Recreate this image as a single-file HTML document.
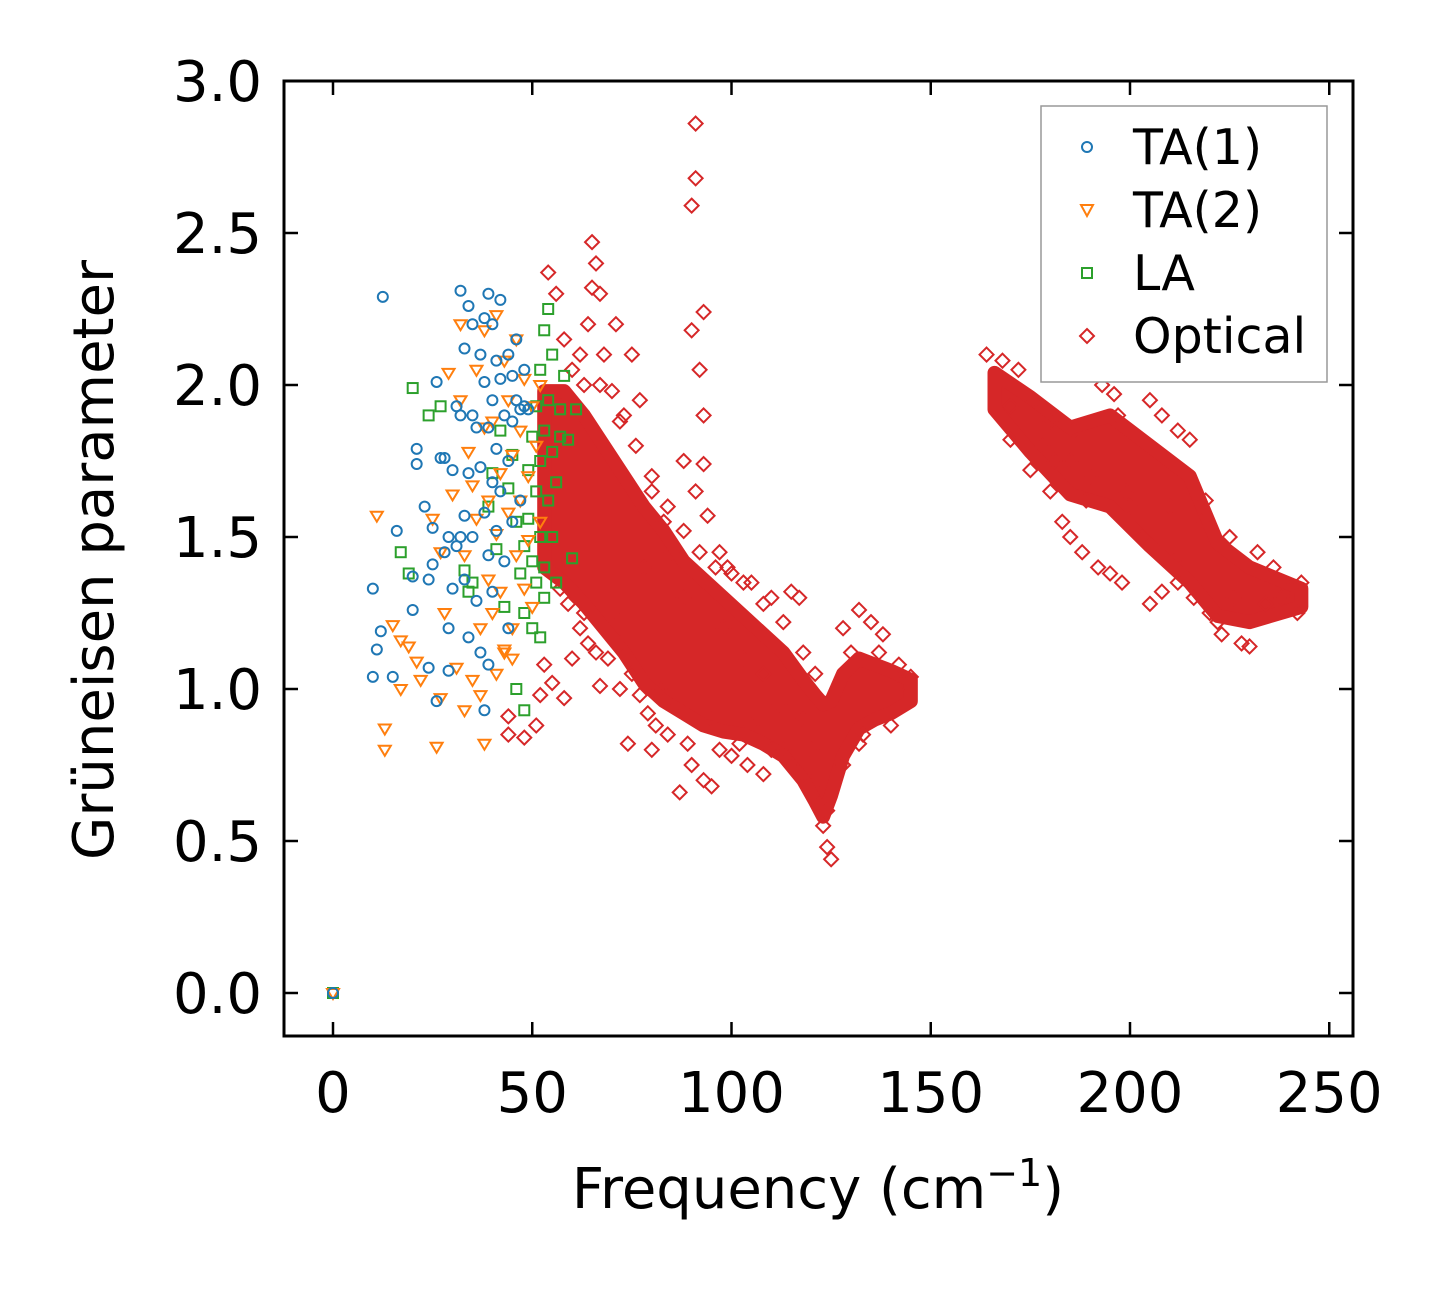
<!DOCTYPE html>
<html><head><meta charset="utf-8"><style>
html,body{margin:0;padding:0;background:#fff;}
svg text{font-family:"DejaVu Sans","Liberation Sans",sans-serif;fill:#000;}
</style></head><body>
<svg id="chart" width="1446" height="1285" xmlns="http://www.w3.org/2000/svg">
<rect width="1446" height="1285" fill="#fff"/>
<g id="marks"></g>
<rect x="284" y="81" width="1069" height="955" fill="none" stroke="#000" stroke-width="3"/>
<g id="ticks"></g>
<text x="818" y="1208" font-size="56" text-anchor="middle">Frequency (cm<tspan font-size="38" dy="-22">−1</tspan><tspan dy="22">)</tspan></text>
<text transform="translate(113,560) rotate(-90)" font-size="56" text-anchor="middle">Grüneisen parameter</text>
<g>
<rect x="1041" y="106" width="286" height="276" fill="#fff" stroke="#999" stroke-width="1.5"/>
<circle cx="1087" cy="147" r="5" fill="none" stroke="#1f77b4" stroke-width="2"/>
<text x="1133" y="164" font-size="49">TA(1)</text>
<polygon points="1081,205 1093,205 1087,216" fill="none" stroke="#ff7f0e" stroke-width="2"/>
<text x="1133" y="227" font-size="49">TA(2)</text>
<rect x="1082" y="268" width="10" height="10" fill="none" stroke="#2ca02c" stroke-width="2"/>
<text x="1133" y="290" font-size="49">LA</text>
<polygon points="1087,329 1094,336 1087,343 1080,336" fill="none" stroke="#d62728" stroke-width="2"/>
<text x="1133" y="353" font-size="49">Optical</text>
</g>
</svg>
<script>
const xTicks=[0,50,100,150,200,250];
const yTicks=[0.0,0.5,1.0,1.5,2.0,2.5,3.0];
const ta1=[[0,0],[12.5,2.29],[10,1.33],[11,1.13],[12,1.19],[10,1.04],[16,1.52],[15,1.04],[20,1.26],[20,1.37],[21,1.74],[21,1.79],[23,1.6],[24,1.36],[24,1.07],[25,1.41],[25,1.53],[26,0.96],[26,2.01],[27,1.76],[28,1.76],[28,1.45],[29,1.5],[29,1.2],[30,1.33],[30,1.72],[31,1.93],[31,1.47],[32,1.9],[32,1.5],[32,2.31],[33,2.12],[33,1.57],[33,1.36],[34,2.26],[34,1.71],[34,1.17],[35,2.2],[35,1.9],[35,1.5],[36,1.86],[36,1.29],[37,2.1],[37,1.73],[37,1.12],[38,2.22],[38,2.01],[38,1.58],[38,0.93],[39,2.3],[39,1.86],[39,1.44],[39,1.08],[40,2.2],[40,1.95],[40,1.68],[40,1.32],[41,2.08],[41,1.79],[41,1.52],[42,2.28],[42,2.02],[42,1.65],[43,1.9],[43,1.42],[44,2.1],[44,1.75],[45,2.03],[45,1.88],[45,1.55],[46,2.15],[46,1.95],[47,1.92],[48,1.93],[48,2.05],[49,1.92],[47,1.62],[44,1.2],[29,1.06]];
const ta2=[[0,0],[11,1.57],[13,0.87],[13,0.8],[15,1.21],[17,1.16],[17,1.0],[19,1.14],[21,1.09],[22,1.03],[25,1.56],[26,0.81],[27,1.45],[27,0.97],[28,1.25],[29,2.04],[30,1.64],[31,1.07],[32,1.95],[32,2.2],[33,1.44],[33,0.93],[34,1.78],[35,1.03],[35,1.67],[36,1.56],[36,2.05],[37,1.2],[37,0.98],[38,2.18],[38,1.86],[38,0.82],[39,1.36],[39,1.62],[40,1.88],[40,1.25],[41,2.23],[41,1.51],[41,1.05],[42,1.71],[42,1.32],[43,2.08],[43,1.12],[44,1.95],[44,1.58],[45,1.77],[45,1.2],[46,2.15],[46,1.44],[47,1.85],[47,1.62],[48,2.02],[48,1.33],[49,1.7],[49,1.49],[50,1.93],[50,1.27],[51,1.8],[52,2.0],[52,1.55],[43,1.13],[45,1.1]];
const la=[[0,0],[17,1.45],[19,1.38],[20,1.99],[24,1.9],[27,1.93],[33,1.39],[34,1.32],[35,1.35],[39,1.6],[40,1.71],[41,1.46],[42,1.85],[43,1.27],[44,1.66],[45,1.77],[46,1.55],[46,1.0],[47,1.38],[48,1.25],[48,0.93],[48,1.47],[49,1.72],[49,1.56],[50,1.83],[50,1.42],[51,1.65],[51,1.35],[51,1.93],[52,2.05],[52,1.5],[52,1.75],[53,1.85],[53,2.18],[53,1.4],[54,1.62],[54,2.25],[54,1.95],[55,1.78],[55,2.1],[55,1.5],[56,1.68],[56,1.35],[57,1.92],[57,1.83],[58,2.03],[59,1.82],[60,1.43],[61,1.92],[52,1.17],[50,1.2],[53,1.3]];
const optical=[[44,0.85],[44,0.91],[48,0.84],[51,0.88],[52,0.98],[53,1.08],[55,1.02],[58,0.97],[54,2.37],[56,2.3],[58,2.15],[60,2.05],[65,2.47],[66,2.4],[67,2.3],[64,2.2],[68,2.1],[70,1.98],[73,1.9],[67,1.01],[72,1.0],[74,0.82],[80,0.8],[84,0.85],[87,0.66],[90,0.75],[93,0.7],[95,0.68],[100,0.78],[104,0.75],[108,0.72],[113,0.8],[118,0.72],[122,0.62],[123,0.55],[124,0.48],[125,0.44],[124,0.6],[91,2.86],[91,2.68],[90,2.59],[93,2.24],[90,2.18],[92,2.05],[93,1.9],[88,1.75],[93,1.74],[91,1.65],[94,1.57],[96,1.4],[97,1.45],[100,1.38],[105,1.35],[110,1.3],[115,1.32],[117,1.3],[132,1.26],[135,1.22],[128,1.2],[138,1.18],[142,1.08],[145,1.04],[140,0.88],[133,0.85],[77,1.95],[75,2.1],[71,2.2],[65,2.32],[62,2.1],[80,1.65],[83,1.55],[85,1.45],[78,1.4],[88,1.3],[98,1.2],[103,1.1],[108,1.05],[112,0.95],[118,0.9],[62,1.2],[60,1.1],[64,1.15],[70,1.25],[75,1.05],[82,1.0],[86,0.95],[95,0.9],[105,0.88],[120,0.8],[164,2.1],[168,2.08],[172,2.05],[176,1.95],[180,1.88],[170,1.82],[175,1.72],[180,1.65],[183,1.55],[185,1.5],[188,1.45],[192,1.4],[195,1.38],[198,1.35],[193,2.0],[196,1.97],[205,1.95],[208,1.9],[212,1.85],[215,1.82],[208,1.32],[205,1.28],[212,1.35],[220,1.25],[223,1.18],[228,1.15],[230,1.14],[225,1.5],[232,1.45],[236,1.4],[240,1.33],[243,1.35],[242,1.25],[238,1.3],[218,1.55],[200,1.6],[190,1.7],[185,1.75],[178,1.8],[210,1.6],[57,1.33],[59,1.28],[63,1.25],[66,1.12],[69,1.1],[72,1.15],[77,0.98],[79,0.92],[81,0.88],[89,0.82],[97,0.8],[102,0.82],[110,0.8],[115,0.75],[120,0.68],[63,2.0],[67,2.0],[72,1.88],[76,1.8],[80,1.7],[84,1.6],[88,1.52],[92,1.45],[99,1.4],[103,1.35],[108,1.28],[113,1.22],[118,1.12],[121,1.05],[130,1.12],[137,1.12],[143,1.02],[128,0.75],[132,0.82],[170,1.93],[181,1.75],[189,1.62],[199,1.65],[203,1.5],[211,1.42],[216,1.3],[219,1.62],[226,1.3],[234,1.28],[222,1.22],[197,1.9],[186,1.85]];
const coreLowFreq=[53,58,63,68,73,78,83,88,93,98,103,108,113,118,121,123,125,128,132,136,140,145];
const coreLowUpper=[1.98,1.98,1.9,1.8,1.7,1.6,1.52,1.42,1.36,1.3,1.24,1.18,1.12,1.03,0.98,0.95,0.96,1.05,1.1,1.08,1.06,1.03];
const coreLowLower=[1.4,1.35,1.28,1.2,1.12,1.02,0.96,0.92,0.88,0.86,0.85,0.82,0.78,0.7,0.63,0.58,0.65,0.78,0.87,0.9,0.92,0.96];
const coreHighFreq=[166,175,185,195,205,215,222,230,243];
const coreHighUpper=[2.04,1.96,1.86,1.9,1.8,1.7,1.48,1.4,1.33];
const coreHighLower=[1.92,1.78,1.64,1.6,1.47,1.35,1.24,1.22,1.27];

const X=v=>333+v*3.985, Y=v=>993-v*304;
const NS="http://www.w3.org/2000/svg";
const marks=document.getElementById('marks'), ticks=document.getElementById('ticks');
function mk(tag,attrs,parent){const e=document.createElementNS(NS,tag);for(const k in attrs)e.setAttribute(k,attrs[k]);parent.appendChild(e);return e;}
xTicks.forEach(t=>{const x=X(t);
 let a=mk('line',{x1:x,x2:x,y1:1036,y2:1022,stroke:'#000','stroke-width':2.5},ticks);
 
 
 let b=mk('line',{x1:x,x2:x,y1:81,y2:95,stroke:'#000','stroke-width':2.5},ticks);
 
 
 let l=mk('text',{x:x,y:1112,'font-size':56,'text-anchor':'middle'},ticks);l.textContent=t;
 
 
});
yTicks.forEach(t=>{const y=Y(t);
 let a=mk('line',{x1:284,x2:298,y1:y,y2:y,stroke:'#000','stroke-width':2.5},ticks);
 
 
 let b=mk('line',{x1:1339,x2:1353,y1:y,y2:y,stroke:'#000','stroke-width':2.5},ticks);
 
 
 let l=mk('text',{x:262,y:y+20,'font-size':56,'text-anchor':'end'},ticks);l.textContent=t.toFixed(1);
 
 
});
function band(fr,up,lo,name){let p=[];fr.forEach((f,i)=>p.push(X(f)+','+Y(up[i])));for(let i=fr.length-1;i>=0;i--)p.push(X(fr[i])+','+Y(lo[i]));
 const e=mk('polygon',{points:p.join(' '),fill:'#d62728',stroke:'#d62728','stroke-width':14,'stroke-linejoin':'round'},marks);
 
 }
band(coreLowFreq,coreLowUpper,coreLowLower,'optical-core-low');
band(coreHighFreq,coreHighUpper,coreHighLower,'optical-core-high');
optical.forEach(d=>{const x=X(d[0]),y=Y(d[1]);
 const e=mk('polygon',{points:`${x},${y-7} ${x+7},${y} ${x},${y+7} ${x-7},${y}`,fill:'none',stroke:'#d62728','stroke-width':2},marks);
 
 });
la.forEach(d=>{const x=X(d[0]),y=Y(d[1]);
 const e=mk('rect',{x:x-5,y:y-5,width:10,height:10,fill:'none',stroke:'#2ca02c','stroke-width':2},marks);
 
 });
ta2.forEach(d=>{const x=X(d[0]),y=Y(d[1]);
 const e=mk('polygon',{points:`${x-6},${y-4} ${x+6},${y-4} ${x},${y+6}`,fill:'none',stroke:'#ff7f0e','stroke-width':2},marks);
 
 });
ta1.forEach(d=>{const e=mk('circle',{cx:X(d[0]),cy:Y(d[1]),r:5,fill:'none',stroke:'#1f77b4','stroke-width':2},marks);
 
 });
</script>
</body></html>
